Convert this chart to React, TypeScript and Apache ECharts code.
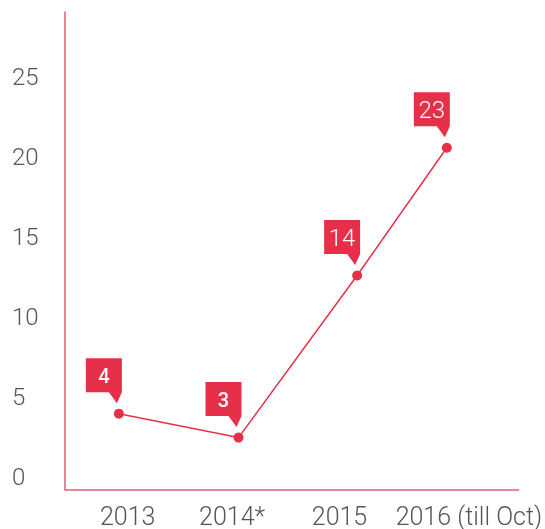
import React, { useEffect, useRef } from "react";
import * as echarts from "echarts";

const categories = ["2013", "2014*", "2015", "2016 (till Oct)"];
// horizontal position of each point, in category-band units
const pointX = [0.475, 1.53, 2.576, 3.367];
// plotted heights as read against the axis
const values = [4.75, 3.25, 13.4, 21.4];
// numbers printed in the callouts
const calloutLabels = ["4", "3", "14", "23"];
const yTicks = [0, 5, 10, 15, 20, 25];

const RED = "#e6304a";
const AXIS = "#ea5a70";
const GREY = "#555555";
const FONT = "Roboto, 'Noto Sans', sans-serif";

// small horizontal nudges of the category labels: [left, right] padding
const labelPads: [number, number][] = [
  [12, 0],
  [0, 6],
  [0, 18],
  [14, 0],
];

export default function App() {
  const ref = useRef<HTMLDivElement>(null);

  useEffect(() => {
    if (!ref.current) return;
    const chart = echarts.init(ref.current, undefined, { renderer: "svg" });
    const pts = pointX.map((x, i) => [x, values[i]]);
    const rich: Record<string, any> = {};
    labelPads.forEach((p, i) => {
      rich["s" + i] = {
        padding: [0, p[1], 0, p[0]],
        color: GREY,
        fontSize: 25,
        fontWeight: 300,
        fontFamily: FONT,
        lineHeight: 20,
      };
    });
    chart.setOption({
      animation: false,
      grid: { left: 65, right: 25, top: 12, bottom: 39, containLabel: false },
      xAxis: [
        {
          type: "category",
          data: categories,
          boundaryGap: true,
          axisLine: { show: true, lineStyle: { color: AXIS, width: 1.5 } },
          axisTick: { show: false },
          splitLine: { show: false },
          axisLabel: {
            interval: 0,
            color: GREY,
            fontSize: 25,
            fontWeight: 300,
            fontFamily: FONT,
            lineHeight: 20,
            margin: 17,
            formatter: (v: string, idx: number) => `{s${idx}|${v}}`,
            rich,
          },
        },
        { type: "value", min: 0, max: 4, show: false },
      ],
      yAxis: {
        type: "value",
        min: 0,
        max: 29.9,
        interval: 5,
        axisLine: { show: true, lineStyle: { color: AXIS, width: 1.5 } },
        axisTick: { show: false },
        splitLine: { show: false },
        axisLabel: {
          align: "left",
          margin: 53,
          verticalAlign: "bottom",
          lineHeight: 26,
          color: GREY,
          fontSize: 24,
          fontWeight: 300,
          fontFamily: FONT,
          formatter: (v: number) => (yTicks.includes(v) ? String(v) : ""),
        },
      },
      series: [
        {
          type: "line",
          xAxisIndex: 1,
          data: pts,
          symbol: "circle",
          symbolSize: 10,
          lineStyle: { color: RED, width: 1.5 },
          itemStyle: { color: RED },
          markPoint: {
            symbol: "path://M0,0L36,0L36,34L31,45L23,34L0,34Z",
            symbolSize: [36, 45],
            symbolOffset: [-15, -33],
            itemStyle: { color: RED },
            label: {
              show: true,
              position: "inside",
              offset: [0, -5],
              color: "#ffffff",
              fontFamily: FONT,
            },
            data: pts.map((p, i) => {
              const t = calloutLabels[i];
              const single = t.length === 1;
              return {
                coord: p,
                value: t,
                label: {
                  formatter: t,
                  fontSize: single ? 20 : 24,
                  fontWeight: single ? 500 : 300,
                },
              };
            }),
          },
        },
      ],
    });
    return () => chart.dispose();
  }, []);

  return (
    <div
      ref={ref}
      style={{ position: "fixed", left: 0, top: 0, width: 545, height: 529 }}
    />
  );
}
